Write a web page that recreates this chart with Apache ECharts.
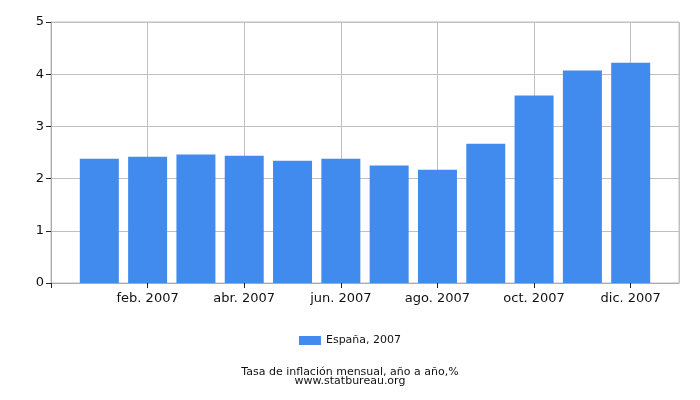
<!DOCTYPE html>
<html><head><meta charset="utf-8">
<script src="https://cdn.jsdelivr.net/npm/echarts@6/dist/echarts.min.js"></script>
<style>html,body{margin:0;padding:0;background:#fff}#c{width:700px;height:400px}</style>
</head><body><div id="c"></div>
<script>
const months = ['ene. 2007','feb. 2007','mar. 2007','abr. 2007','may. 2007','jun. 2007','jul. 2007','ago. 2007','sep. 2007','oct. 2007','nov. 2007','dic. 2007'];
const monthIndex = [1,2,3,4,5,6,7,8,9,10,11,12];
const values = [2.38,2.42,2.46,2.44,2.34,2.38,2.25,2.17,2.67,3.59,4.07,4.22];
const seriesName = 'España, 2007';
const titleText = 'Tasa de inflación mensual, año a año,%';
const subText = 'www.statbureau.org';

const chart = echarts.init(document.getElementById('c'), null, {renderer:'canvas'});
const font = 'DejaVu Sans';
chart.setOption({
  animation:false,
  textStyle:{fontFamily:font},
  grid:{left:51,right:21,top:22,bottom:117,containLabel:false,show:true,borderColor:'#c0c0c0',borderWidth:1},
  legend:{bottom:49,left:'center',itemWidth:22,itemHeight:9,itemGap:5,
    textStyle:{fontFamily:font,fontSize:11,color:'#111'},data:[seriesName],icon:'rect'},
  title:{text:titleText,subtext:subText,left:'center',bottom:13,itemGap:-2,padding:0,
    textStyle:{fontFamily:font,fontSize:11,fontWeight:'normal',color:'#111'},
    subtextStyle:{fontFamily:font,fontSize:11,color:'#111'}},
  xAxis:{type:'value',min:0,max:13,interval:2,
    axisLine:{show:true,lineStyle:{color:'#aaa'}},
    axisTick:{show:true,length:5,lineStyle:{color:'#222'}},
    splitLine:{show:true,lineStyle:{color:'#c0c0c0'}},
    axisLabel:{fontFamily:font,fontSize:13,color:'#111',margin:9,showMaxLabel:false,
      formatter:v=>(v>=1&&v<=12)?months[v-1]:''}},
  yAxis:{type:'value',min:0,max:5,interval:1,
    axisLine:{show:true,lineStyle:{color:'#aaa'}},
    axisTick:{show:true,length:5,lineStyle:{color:'#222'}},
    splitLine:{show:true,lineStyle:{color:'#c0c0c0'}},
    axisLabel:{fontFamily:font,fontSize:13,color:'#111',margin:7}},
  series:[{name:seriesName,type:'bar',barWidth:39,
    itemStyle:{color:'#428bee'},
    data:monthIndex.map((m,i)=>[m,values[i]])}]
});
</script></body></html>
